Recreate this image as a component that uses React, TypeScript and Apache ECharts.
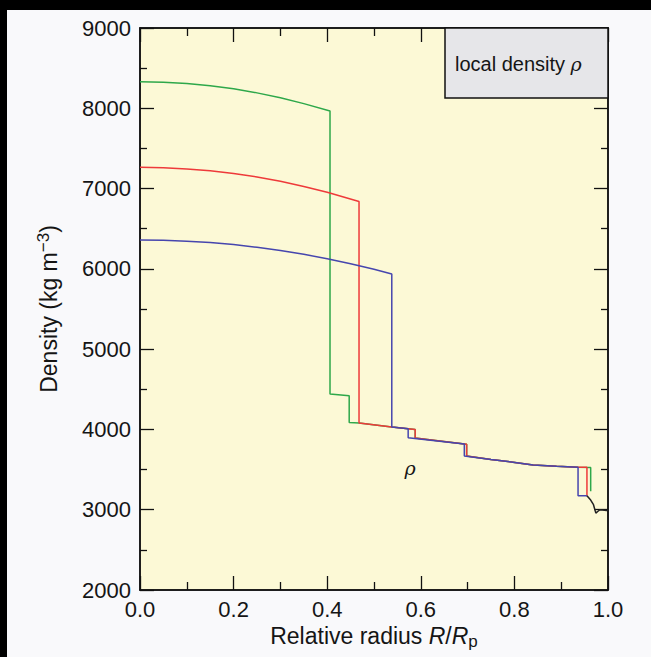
import React, { useEffect, useRef } from "react";
import * as echarts from "echarts";

// Relative radius / density readings (x, kg m^-3)
const greenSeries: [number, number][] = [
  [0, 8330], [0.05, 8325], [0.1, 8308], [0.15, 8282], [0.2, 8243], [0.25, 8192],
  [0.3, 8132], [0.35, 8058], [0.406, 7965],
  [0.406, 4440], [0.447, 4420], [0.447, 4086], [0.468, 4081], [0.538, 4030],
  [0.588, 4000], [0.588, 3893], [0.698, 3815], [0.698, 3670], [0.75, 3625], [0.797, 3592],
  [0.84, 3558], [0.89, 3540], [0.936, 3530], [0.963, 3527], [0.963, 3230],
];
const redSeries: [number, number][] = [
  [0, 7265], [0.05, 7260], [0.1, 7245], [0.15, 7222], [0.2, 7188], [0.25, 7144],
  [0.3, 7090], [0.35, 7026], [0.4, 6953], [0.468, 6838],
  [0.468, 4081], [0.538, 4030], [0.588, 4000], [0.588, 3893], [0.698, 3815],
  [0.698, 3670], [0.75, 3625], [0.797, 3592], [0.84, 3558], [0.89, 3540], [0.936, 3530], [0.955, 3528],
  [0.955, 3174],
];
const blueSeries: [number, number][] = [
  [0, 6360], [0.05, 6356], [0.1, 6345], [0.15, 6327], [0.2, 6302], [0.25, 6269],
  [0.3, 6229], [0.35, 6181], [0.4, 6126], [0.45, 6064], [0.5, 5995],
  [0.538, 5937], [0.538, 4030], [0.573, 4007], [0.573, 3895], [0.693, 3818],
  [0.693, 3670], [0.75, 3625], [0.797, 3592], [0.84, 3558], [0.89, 3540], [0.936, 3530], [0.936, 3174],
  [0.955, 3174],
];
const blackSeries: [number, number][] = [
  [0.955, 3174], [0.963, 3120], [0.969, 3062], [0.974, 2958], [0.978, 2978],
  [0.983, 3000], [0.997, 2990], [1.0, 2995],
];
const xTicks = [0, 0.2, 0.4, 0.6, 0.8, 1.0];
const yTicks = [2000, 3000, 4000, 5000, 6000, 7000, 8000, 9000];

const LEFT = 140, TOP = 28, RIGHT = 43, BOTTOM = 67;
const FONT = "'Liberation Sans', Arial, Helvetica, sans-serif";

export default function App() {
  const ref = useRef<HTMLDivElement>(null);
  useEffect(() => {
    if (!ref.current) return;
    const chart = echarts.init(ref.current, undefined, { renderer: "svg" });
    const tickStyle = { color: "#111", width: 1.3 };
    const baseX = {
      type: "value" as const,
      min: xTicks[0],
      max: xTicks[xTicks.length - 1],
      interval: 0.2,
      splitLine: { show: false },
      axisLine: { show: true, onZero: false, lineStyle: { color: "#111", width: 1.5 } },
      axisTick: { show: true, inside: true, length: 14, lineStyle: tickStyle },
      minorTick: { show: true, splitNumber: 2, length: 8, lineStyle: tickStyle },
    };
    const baseY = {
      type: "value" as const,
      min: yTicks[0],
      max: yTicks[yTicks.length - 1],
      interval: 1000,
      splitLine: { show: false },
      axisLine: { show: true, onZero: false, lineStyle: { color: "#111", width: 1.5 } },
      axisTick: { show: true, inside: true, length: 14, lineStyle: tickStyle },
      minorTick: { show: true, splitNumber: 2, length: 7, lineStyle: tickStyle },
    };
    const mk = (name: string, data: [number, number][], color: string) => ({
      type: "line" as const,
      name,
      data,
      showSymbol: false,
      symbol: "none",
      smooth: false,
      lineStyle: { color, width: 1.5 },
      xAxisIndex: 0,
      yAxisIndex: 0,
      z: 3,
    });
    chart.setOption({
      animation: false,
      backgroundColor: "#f9f9fb",
      grid: {
        left: LEFT, top: TOP, right: RIGHT, bottom: BOTTOM,
        show: true, backgroundColor: "#fcf9d6", borderColor: "#111", borderWidth: 1.5,
      },
      xAxis: [
        {
          ...baseX,
          position: "bottom",
          axisLabel: {
            show: true, margin: 8, fontSize: 22, color: "#151515", fontFamily: FONT,
            formatter: (v: number) => v.toFixed(1),
          },
          name: "{a|Relative radius }{i|R}{a|/}{i|R}{s|p}",
          nameLocation: "middle",
          nameGap: 31,
          nameTextStyle: {
            rich: {
              a: { fontSize: 23, fontFamily: FONT, color: "#151515" },
              i: { fontSize: 23, fontFamily: FONT, fontStyle: "italic", color: "#151515" },
              s: { fontSize: 17, fontFamily: FONT, color: "#151515", verticalAlign: "bottom", padding: [10, 0, 0, 0] },
            },
          },
        },
        { ...baseX, position: "top", axisLabel: { show: false } },
      ],
      yAxis: [
        {
          ...baseY,
          position: "left",
          axisLabel: {
            show: true, margin: 9, fontSize: 22, color: "#151515", fontFamily: FONT,
            formatter: (v: number) => String(v),
          },
          name: "{a|Density (kg m}{s|−3}{a|)}",
          nameLocation: "middle",
          nameGap: 78,
          nameRotate: 90,
          nameTextStyle: {
            rich: {
              a: { fontSize: 23, fontFamily: FONT, color: "#151515" },
              s: { fontSize: 17, fontFamily: FONT, color: "#151515", verticalAlign: "top", padding: [0, 0, 10, 0] },
            },
          },
        },
        { ...baseY, position: "right", axisLabel: { show: false } },
      ],
      series: [
        mk("green", greenSeries, "#2ea84a"),
        mk("red", redSeries, "#ee3a3a"),
        mk("blue", blueSeries, "#4646ae"),
        mk("black", blackSeries, "#222222"),
      ],
      graphic: [
        { type: "rect", left: 0, top: 0, shape: { width: 651, height: 10 }, style: { fill: "#000" }, z: 100 },
        { type: "rect", left: 0, top: 0, shape: { width: 7, height: 657 }, style: { fill: "#000" }, z: 100 },
        {
          type: "rect", x: 445, y: 28, shape: { width: 163, height: 70 },
          style: { fill: "#e6e6e9", stroke: "#111", lineWidth: 1.5 }, z: 10,
        },
        {
          type: "text", x: 455, y: 64, z: 11,
          style: {
            text: "{a|local density }{r|ρ}",
            verticalAlign: "middle",
            rich: {
              a: { fontSize: 20, fontFamily: FONT, fill: "#151515" },
              r: { fontSize: 19, fontFamily: "'DejaVu Serif', serif", fontStyle: "italic", fill: "#151515" },
            },
          },
        },
        {
          type: "text", x: 410, y: 468, z: 11,
          style: {
            text: "ρ", fontSize: 19, fontFamily: "'DejaVu Serif', serif", fontStyle: "italic",
            fill: "#151515", align: "center", verticalAlign: "middle",
          },
        },
      ],
    });
    return () => chart.dispose();
  }, []);
  return (
    <div
      ref={ref}
      style={{ position: "fixed", left: 0, top: 0, width: 651, height: 657 }}
    />
  );
}
